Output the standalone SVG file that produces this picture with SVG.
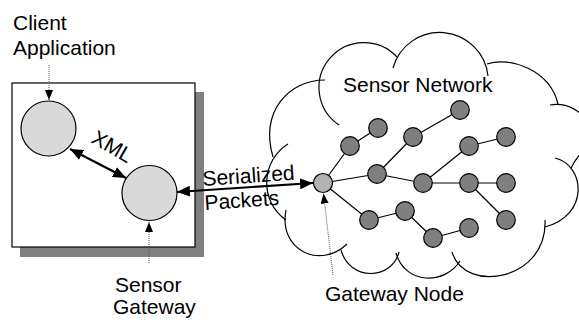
<svg xmlns="http://www.w3.org/2000/svg" width="579" height="320" viewBox="0 0 579 320">
<style>
text{font-family:"Liberation Sans",Arial,sans-serif;font-size:21px;fill:#000}
.cloud{fill:none;stroke:#000;stroke-width:1.2}
.edge{stroke:#000;stroke-width:1.2}
.node{fill:#7f7f7f;stroke:#000;stroke-width:1.2}
.big{fill:#d9d9d9;stroke:#000;stroke-width:1.2}
.thick{stroke:#000;stroke-width:2.2;fill:none}
.dot{stroke:#555;stroke-width:1;stroke-dasharray:1 1;fill:none}
</style>
<defs>
<marker id="ah" markerUnits="userSpaceOnUse" markerWidth="13" markerHeight="11" refX="13" refY="5.5" orient="auto-start-reverse">
<path d="M0,0 L13,5.5 L0,11 z" fill="#000"/>
</marker>
<marker id="sh" markerUnits="userSpaceOnUse" markerWidth="10" markerHeight="8" refX="10" refY="4" orient="auto">
<path d="M0,0 L10,4 L0,8 z" fill="#000"/>
</marker>
</defs>
<g id="host-box">
<rect x="20" y="92" width="184" height="165" fill="#808080"/>
<rect x="12" y="83" width="183" height="164" fill="#fff" stroke="#000" stroke-width="1.2"/>
</g>
<g id="cloud">
<path class="cloud" d="M339,125 A45,45 0 1 1 397,57"/>
<path class="cloud" d="M393,68 A48.5,48.5 0 0 1 488,76"/>
<path class="cloud" d="M487,64 C510,56 550,70 558,104"/>
<path class="cloud" d="M550,105 C566,102 582,110 592,128"/>
<path class="cloud" d="M584,150 Q576,158 571,168"/>
<path class="cloud" d="M555,158 C585,165 590,215 545,227"/>
<path class="cloud" d="M545,220 C548,280 465,295 452,252"/>
<path class="cloud" d="M460,261 C445,285 405,285 396,253"/>
<path class="cloud" d="M399,252 C392,280 350,282 341,250"/>
<path class="cloud" d="M286,210 C278,250 320,270 347,244"/>
<path class="cloud" d="M288,144 C262,160 258,200 286,220"/>
<path class="cloud" d="M325,80 C288,80 260,112 273,157"/>
</g>
<g id="connectors">
<line class="edge" x1="323" y1="183" x2="350" y2="146"/>
<line class="edge" x1="350" y1="146" x2="378" y2="128"/>
<line class="edge" x1="323" y1="183" x2="377" y2="174"/>
<line class="edge" x1="377" y1="174" x2="413" y2="137"/>
<line class="edge" x1="413" y1="137" x2="460" y2="110"/>
<line class="edge" x1="377" y1="174" x2="423" y2="183"/>
<line class="edge" x1="423" y1="183" x2="469" y2="146"/>
<line class="edge" x1="469" y1="146" x2="506" y2="137"/>
<line class="edge" x1="423" y1="183" x2="469" y2="183"/>
<line class="edge" x1="469" y1="183" x2="506" y2="183"/>
<line class="edge" x1="469" y1="183" x2="506" y2="220"/>
<line class="edge" x1="323" y1="183" x2="369" y2="220"/>
<line class="edge" x1="369" y1="220" x2="405" y2="211"/>
<line class="edge" x1="405" y1="211" x2="433" y2="238"/>
<line class="edge" x1="433" y1="238" x2="469" y2="228"/>
<path class="thick" d="M70,149 L126,178" marker-start="url(#ah)" marker-end="url(#ah)"/>
<path class="thick" d="M177,192 L313,183" marker-start="url(#ah)" marker-end="url(#ah)"/>
<path class="dot" d="M49,65 L49,100" marker-end="url(#sh)"/>
<path class="dot" d="M149,263 L149,222" marker-end="url(#sh)"/>
<path class="dot" d="M333,275 L323.5,193.5" marker-end="url(#sh)"/>
</g>
<g id="client-application"><circle class="big" cx="48.5" cy="128.5" r="27.5"/></g>
<g id="sensor-gateway"><circle class="big" cx="149.5" cy="193" r="27.5"/></g>
<g id="gateway-node"><circle cx="323" cy="183" r="9.5" fill="#b3b3b3" stroke="#000" stroke-width="1.2"/></g>
<g id="sensor-nodes">
<circle class="node" cx="350" cy="146" r="9.3"/>
<circle class="node" cx="378" cy="128" r="9.3"/>
<circle class="node" cx="377" cy="174" r="9.3"/>
<circle class="node" cx="413" cy="137" r="9.3"/>
<circle class="node" cx="460" cy="110" r="9.3"/>
<circle class="node" cx="423" cy="183" r="9.3"/>
<circle class="node" cx="469" cy="146" r="9.3"/>
<circle class="node" cx="506" cy="137" r="9.3"/>
<circle class="node" cx="469" cy="183" r="9.3"/>
<circle class="node" cx="506" cy="183" r="9.3"/>
<circle class="node" cx="506" cy="220" r="9.3"/>
<circle class="node" cx="369" cy="220" r="9.3"/>
<circle class="node" cx="405" cy="211" r="9.3"/>
<circle class="node" cx="433" cy="238" r="9.3"/>
<circle class="node" cx="469" cy="228" r="9.3"/>
</g>
<g id="labels">
<text x="13" y="30">Client</text>
<text x="13" y="55">Application</text>
<text x="115" y="292">Sensor</text>
<text x="113" y="314">Gateway</text>
<text x="343" y="92">Sensor Network</text>
<text x="325" y="301">Gateway Node</text>
<text x="203" y="186" transform="rotate(-4 203 186)">Serialized</text>
<text x="205" y="210" transform="rotate(-4 205 210)">Packets</text>
<text x="90" y="142" transform="rotate(30 90 142)">XML</text>
</g>
</svg>
